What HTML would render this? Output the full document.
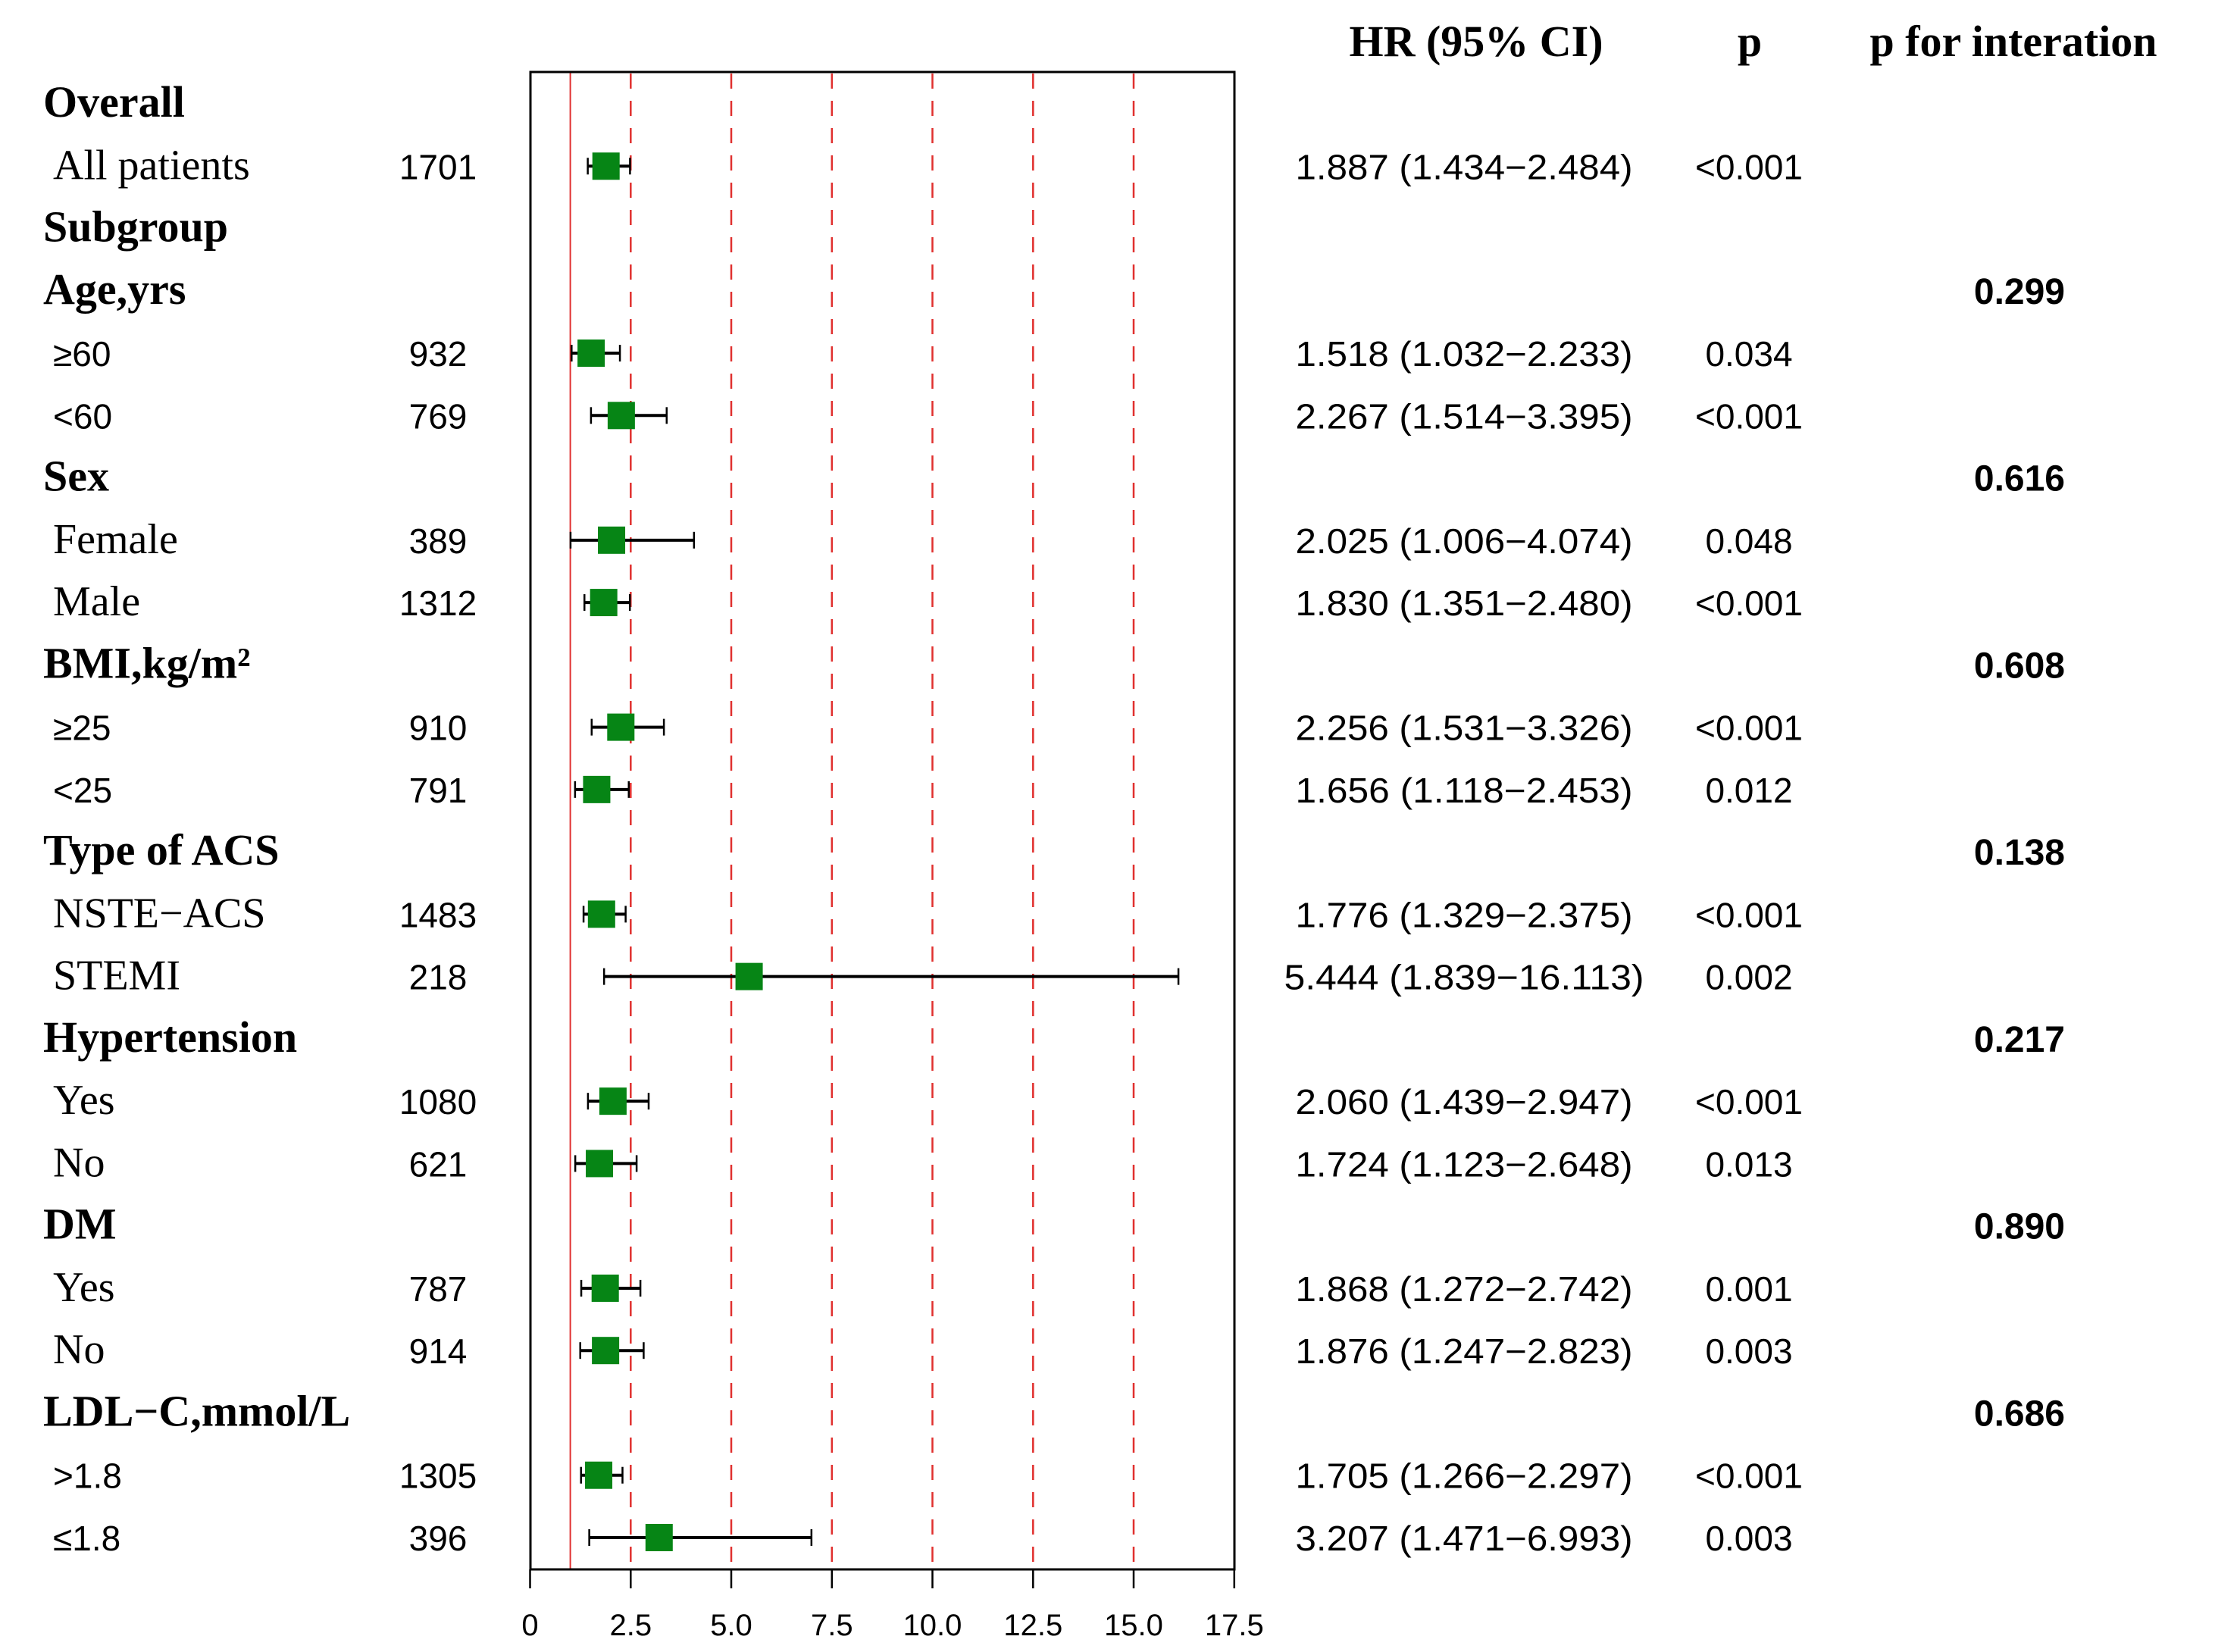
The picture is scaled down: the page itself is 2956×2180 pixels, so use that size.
<!DOCTYPE html>
<html><head><meta charset="utf-8"><style>html,body{margin:0;padding:0;background:#fff}svg{display:block}</style></head>
<body>
<svg xmlns="http://www.w3.org/2000/svg" width="2956" height="2180" viewBox="0 0 2956 2180">
<rect width="2956" height="2180" fill="#fff"/>
<g font-family="Liberation Serif, serif" font-weight="bold" font-size="58" text-anchor="middle" fill="#000">
<text x="1948" y="74">HR (95% CI)</text>
<text x="2309" y="74">p</text>
<text x="2657" y="74">p for interation</text>
</g>
<g stroke="#e0302f" stroke-width="2.5" stroke-dasharray="20 16">
<line x1="832.3" y1="97" x2="832.3" y2="2070"/>
<line x1="965" y1="97" x2="965" y2="2070"/>
<line x1="1097.8" y1="97" x2="1097.8" y2="2070"/>
<line x1="1230.5" y1="97" x2="1230.5" y2="2070"/>
<line x1="1363.3" y1="97" x2="1363.3" y2="2070"/>
<line x1="1496" y1="97" x2="1496" y2="2070"/>
</g>
<line x1="752.6" y1="95" x2="752.6" y2="2071" stroke="#e0302f" stroke-width="2"/>
<rect x="700" y="95" width="929" height="1976" fill="none" stroke="#000" stroke-width="3"/>
<g stroke="#000" stroke-width="2.5">
<line x1="699.5" y1="2071" x2="699.5" y2="2096"/><line x1="832.3" y1="2071" x2="832.3" y2="2096"/>
<line x1="965" y1="2071" x2="965" y2="2096"/><line x1="1097.8" y1="2071" x2="1097.8" y2="2096"/>
<line x1="1230.5" y1="2071" x2="1230.5" y2="2096"/><line x1="1363.3" y1="2071" x2="1363.3" y2="2096"/>
<line x1="1496" y1="2071" x2="1496" y2="2096"/><line x1="1628.8" y1="2071" x2="1628.8" y2="2096"/>
</g>
<g font-family="Liberation Sans, sans-serif" font-size="40" text-anchor="middle">
<text x="699.5" y="2158">0</text><text x="832.3" y="2158">2.5</text><text x="965" y="2158">5.0</text>
<text x="1097.8" y="2158">7.5</text><text x="1230.5" y="2158">10.0</text><text x="1363.3" y="2158">12.5</text>
<text x="1496" y="2158">15.0</text><text x="1628.8" y="2158">17.5</text>
</g>
<g id="rows"></g>
<script>
var ns="http://www.w3.org/2000/svg",g=document.getElementById("rows");
function X(v){return 699.5+v*53.1}
function el(t,a,txt){var e=document.createElementNS(ns,t);for(var k in a)e.setAttribute(k,a[k]);if(txt!=null)e.textContent=txt;g.appendChild(e);return e}
var rows=[
["h","Overall"],
["s","All patients","1701",1.887,1.434,2.484,"1.887 (1.434\u22122.484)","<0.001",1],
["h","Subgroup"],
["h","Age,yrs",null,0,0,0,null,null,0,"0.299"],
["s","\u226560","932",1.518,1.032,2.233,"1.518 (1.032\u22122.233)","0.034",0],
["s","<60","769",2.267,1.514,3.395,"2.267 (1.514\u22123.395)","<0.001",0],
["h","Sex",null,0,0,0,null,null,0,"0.616"],
["s","Female","389",2.025,1.006,4.074,"2.025 (1.006\u22124.074)","0.048",1],
["s","Male","1312",1.830,1.351,2.480,"1.830 (1.351\u22122.480)","<0.001",1],
["h","BMI,kg/m\u00b2",null,0,0,0,null,null,0,"0.608"],
["s","\u226525","910",2.256,1.531,3.326,"2.256 (1.531\u22123.326)","<0.001",0],
["s","<25","791",1.656,1.118,2.453,"1.656 (1.118\u22122.453)","0.012",0],
["h","Type of ACS",null,0,0,0,null,null,0,"0.138"],
["s","NSTE\u2212ACS","1483",1.776,1.329,2.375,"1.776 (1.329\u22122.375)","<0.001",1],
["s","STEMI","218",5.444,1.839,16.113,"5.444 (1.839\u221216.113)","0.002",1],
["h","Hypertension",null,0,0,0,null,null,0,"0.217"],
["s","Yes","1080",2.060,1.439,2.947,"2.060 (1.439\u22122.947)","<0.001",1],
["s","No","621",1.724,1.123,2.648,"1.724 (1.123\u22122.648)","0.013",1],
["h","DM",null,0,0,0,null,null,0,"0.890"],
["s","Yes","787",1.868,1.272,2.742,"1.868 (1.272\u22122.742)","0.001",1],
["s","No","914",1.876,1.247,2.823,"1.876 (1.247\u22122.823)","0.003",1],
["h","LDL\u2212C,mmol/L",null,0,0,0,null,null,0,"0.686"],
["s",">1.8","1305",1.705,1.266,2.297,"1.705 (1.266\u22122.297)","<0.001",0],
["s","\u22641.8","396",3.207,1.471,6.993,"3.207 (1.471\u22126.993)","0.003",0]];
rows.forEach(function(r,i){
 var y=137+i*82.26, b=y+17;
 if(r[0]=="h"){
  el("text",{x:57,y:b,"font-family":"Liberation Serif, serif","font-weight":"bold","font-size":58},r[1]);
  if(r[9])el("text",{x:2725,y:b,"font-family":"Liberation Sans, sans-serif","font-weight":"bold","font-size":48,"text-anchor":"end"},r[9]);
 } else {
  el("text",{x:70,y:b,"font-family":r[8]?"Liberation Serif, serif":"Liberation Sans, sans-serif","font-size":r[8]?56:46},r[1]);
  el("text",{x:578,y:b,"font-family":"Liberation Sans, sans-serif","font-size":46,"text-anchor":"middle"},r[2]);
  var len=r[6].length>19?475:445;
  el("text",{x:1932,y:b,"font-family":"Liberation Sans, sans-serif","font-size":46,"text-anchor":"middle",textLength:len,lengthAdjust:"spacingAndGlyphs"},r[6]);
  el("text",{x:2308,y:b,"font-family":"Liberation Sans, sans-serif","font-size":46,"text-anchor":"middle"},r[7]);
  var l=X(r[4]),h=X(r[5]),c=X(r[3]);
  el("line",{x1:l,y1:y,x2:h,y2:y,stroke:"#000","stroke-width":4});
  el("line",{x1:l,y1:y-11,x2:l,y2:y+11,stroke:"#000","stroke-width":2.5});
  el("line",{x1:h,y1:y-11,x2:h,y2:y+11,stroke:"#000","stroke-width":2.5});
  el("rect",{x:c-18,y:y-18,width:36,height:36,fill:"#068515"});
 }
});
</script>
</svg>
</body></html>
